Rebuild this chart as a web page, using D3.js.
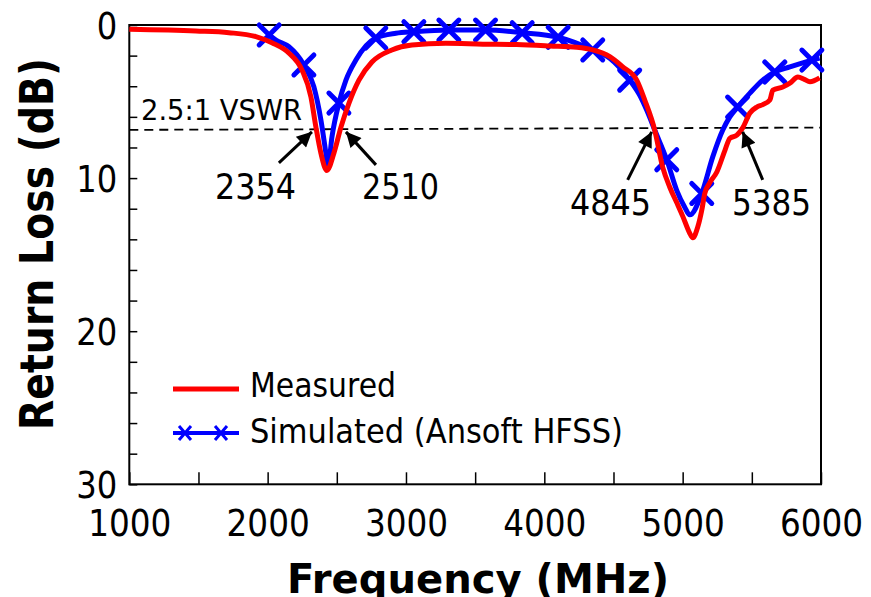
<!DOCTYPE html>
<html><head><meta charset="utf-8">
<script src="https://cdn.jsdelivr.net/npm/d3@7"></script>
<style>html,body{margin:0;padding:0;background:#fff;}svg{display:block;}</style>
</head><body>
<svg id="chart" width="871" height="597"></svg>
<script>
// ---- data ----
const measFreq = [1000,1482,1720,1915,2031,2153,2248,2313,2349,2385,2428,2479,2530,2588,2660,2754,2898,3043,3288,3556,3801,4040,4235,4350,4473,4567,4668,4726,4798,4856,4907,4957,5001,5051,5073,5109,5138,5160,5196,5247,5305,5341,5392,5435,5486,5536,5579,5630,5652,5724,5775,5833,5880,5920,5990];
const measRL   = [0.28,0.39,0.5,0.76,1.16,1.83,2.94,4.7,6.67,8.37,9.5,8.37,6.67,5.1,3.6,2.42,1.63,1.31,1.2,1.25,1.28,1.37,1.46,1.63,2.07,2.73,3.6,4.9,6.86,9.3,10.6,11.6,12.5,13.6,13.9,13.2,12.1,11.0,10.3,9.6,8.2,7.4,7.2,6.7,5.75,5.36,5.2,4.9,4.25,4.05,3.8,3.4,3.55,3.7,3.45];
const simFreq  = [2011,2060,2154,2262,2334,2385,2421,2436,2465,2515,2566,2638,2782,2927,3057,3310,3575,3840,4100,4350,4473,4617,4690,4740,4798,4885,4957,5015,5051,5138,5218,5290,5341,5397,5486,5579,5666,5775,5934,5990];
const simRL    = [0.65,0.98,1.42,2.61,4.03,6.2,8.37,9.3,7.3,5.1,3.6,2.29,0.85,0.54,0.44,0.33,0.33,0.5,0.8,1.63,2.17,3.6,4.6,5.56,6.86,8.8,10.8,11.9,12.4,11.0,8.6,6.86,6.0,5.36,4.45,3.6,3.07,2.74,2.29,2.16];
const simMarkerFreq = [2011,2262,2515,2782,3057,3310,3575,3840,4100,4350,4617,4885,5138,5397,5666,5934];
const xTicks = [1000,1500,2000,2500,3000,3500,4000,4500,5000,5500,6000];
const yTicks = [0,2,4,6,8,10,12,14,16,18,20,22,24,26,28,30];
const vswrLine = [[1000,6.85],[6000,6.7]];
const vswrLabel = "2.5:1 VSWR";
const bandLabels = ["2354","2510","4845","5385"];
const arrowTipFreq = [2320,2566,4776,5434];
const seriesNames = ["Measured","Simulated (Ansoft HFSS)"];
const xTitle = "Frequency (MHz)";
const yTitle = "Return Loss (dB)";

// ---- layout ----
const svg = d3.select("#chart");
const L = 129.3, R = 821, T = 25, B = 484.3;
const x = d3.scaleLinear().domain([1000,6000]).range([L,R]);
const y = d3.scaleLinear().domain([0,30]).range([T,B]);
const FONT = "'DejaVu Sans', Verdana, sans-serif";
const RED = "#ff0000", BLUE = "#0000ff";

svg.append("rect").attr("width",871).attr("height",597).attr("fill","#fff");

function fitText(g, str, opts){
  const t = g.append("text").text(str)
    .attr("x", opts.x).attr("y", opts.y)
    .attr("font-family", FONT).attr("font-size", opts.size)
    .attr("font-weight", opts.bold ? "bold" : "normal")
    .attr("text-anchor", opts.anchor || "start")
    .attr("fill","#000");
  if (opts.len) t.attr("textLength", opts.len).attr("lengthAdjust","spacingAndGlyphs");
  return t;
}

// axes (inward ticks)
const xAxis = d3.axisBottom(x).tickValues(xTicks).tickSizeInner(-12).tickSizeOuter(0)
  .tickPadding(25).tickFormat(d => d % 1000 === 0 ? d : "");
const gx = svg.append("g").attr("transform",`translate(0,${B})`).call(xAxis);
gx.select(".domain").remove();
gx.selectAll(".tick line").attr("stroke","#000").attr("stroke-width",1.5);
gx.selectAll(".tick text").attr("font-family",FONT).attr("font-size",38).attr("fill","#000")
  .each(function(d){ const s = d3.select(this); if (s.text()) s.attr("textLength", s.text().length*20.8).attr("lengthAdjust","spacingAndGlyphs"); });

const yAxis = d3.axisLeft(y).tickValues(yTicks).tickSizeInner(-8).tickSizeOuter(0)
  .tickPadding(12).tickFormat(d => d % 10 === 0 ? d : "");
const gy = svg.append("g").attr("transform",`translate(${L},0)`).call(yAxis);
gy.select(".domain").remove();
gy.selectAll(".tick line").attr("stroke","#000").attr("stroke-width",1.5);
gy.selectAll(".tick text").attr("font-family",FONT).attr("font-size",38).attr("fill","#000").attr("dy","0.36em")
  .each(function(d){ const s = d3.select(this); if (s.text()) s.attr("textLength", s.text().length*20.5).attr("lengthAdjust","spacingAndGlyphs"); });

// frame
svg.append("rect").attr("x",L).attr("y",T).attr("width",R-L).attr("height",B-T)
  .attr("fill","none").attr("stroke","#000").attr("stroke-width",2);

// VSWR dashed line
svg.append("line").attr("x1",x(vswrLine[0][0])).attr("y1",y(vswrLine[0][1]))
  .attr("x2",x(vswrLine[1][0])).attr("y2",y(vswrLine[1][1]))
  .attr("stroke","#000").attr("stroke-width",1.8).attr("stroke-dasharray","9,6");
fitText(svg, vswrLabel, {x:141, y:120, size:28, len:161});

// simulated line + markers
const sim = simFreq.map((f,i)=>[f, simRL[i]]);
const meas = measFreq.map((f,i)=>[f, measRL[i]]);
const line = d3.line().x(d=>x(d[0])).y(d=>y(d[1])).curve(d3.curveMonotoneX);
svg.append("path").datum(sim).attr("d",line).attr("fill","none")
  .attr("stroke",BLUE).attr("stroke-width",5).attr("stroke-linejoin","round");
const markers = simMarkerFreq.map(f => [f, simRL[simFreq.indexOf(f)]]);
const mk = 10;
svg.append("g").selectAll("path").data(markers).join("path")
  .attr("d", d => { const cx=x(d[0]), cy=y(d[1]); return `M${cx-mk},${cy-mk}L${cx+mk},${cy+mk}M${cx-mk},${cy+mk}L${cx+mk},${cy-mk}`; })
  .attr("stroke",BLUE).attr("stroke-width",5).attr("stroke-linecap","round");

// measured line on top
svg.append("path").datum(meas).attr("d",line).attr("fill","none")
  .attr("stroke",RED).attr("stroke-width",5).attr("stroke-linejoin","round");

// arrows + band labels
svg.append("defs").append("marker").attr("id","ah").attr("viewBox","0 0 10 10")
  .attr("refX",10).attr("refY",5).attr("markerWidth",6).attr("markerHeight",5)
  .attr("markerUnits","strokeWidth").attr("orient","auto")
  .append("path").attr("d","M0,0L10,5L0,10Z").attr("fill","#000");
const tailOff = [[-33,31],[30,33],[-24,48],[20,48]];
const labelPos = [[215,199],[362,199],[570,215],[732,215]];
const labelLen = [81,77,81,79];
arrowTipFreq.forEach((f,i)=>{
  const tx = x(f), ty = y(6.85)+2;
  svg.append("line").attr("x1",tx+tailOff[i][0]).attr("y1",ty+tailOff[i][1])
    .attr("x2",tx).attr("y2",ty).attr("stroke","#000").attr("stroke-width",3)
    .attr("marker-end","url(#ah)");
  fitText(svg, bandLabels[i], {x:labelPos[i][0], y:labelPos[i][1], size:36, len:labelLen[i]});
});

// legend
const lg = svg.append("g");
lg.append("line").attr("x1",173).attr("x2",239).attr("y1",389).attr("y2",389).attr("stroke",RED).attr("stroke-width",5);
fitText(lg, seriesNames[0], {x:250, y:397, size:33, len:146});
lg.append("line").attr("x1",173).attr("x2",239).attr("y1",433).attr("y2",433).attr("stroke",BLUE).attr("stroke-width",4);
[185,221].forEach(cx=>{
  lg.append("path").attr("d",`M${cx-6},${433-7}L${cx+6},${433+7}M${cx-6},${433+7}L${cx+6},${433-7}`)
    .attr("stroke",BLUE).attr("stroke-width",3);
});
fitText(lg, seriesNames[1], {x:250, y:443, size:33, len:373});

// titles
fitText(svg, xTitle, {x:478, y:593, size:40, bold:true, anchor:"middle", len:382});
const yt = svg.append("g").attr("transform","translate(53,244) rotate(-90)");
fitText(yt, yTitle, {x:0, y:0, size:47, bold:true, anchor:"middle", len:372});
</script>
</body></html>
